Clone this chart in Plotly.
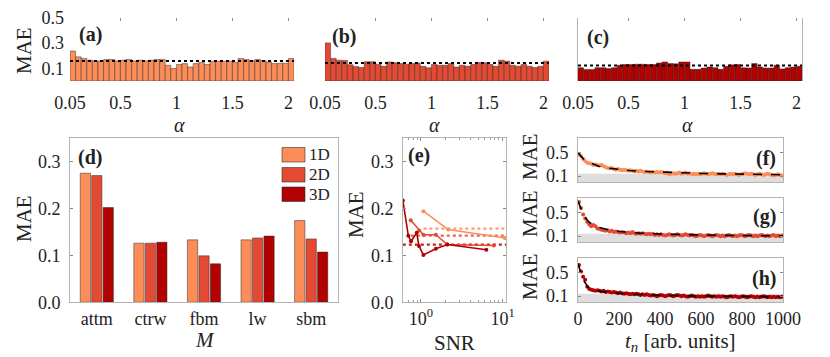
import plotly.graph_objects as go

# The page body has an 8px default margin, so the figure is sized to fill the
# 830x357 window from that offset; all positions below are window pixels.
OX, OY = 8, 8
FW, FH = 822, 349
FONT = "Liberation Serif, DejaVu Serif, serif"
C1, C2, C3 = "#FC8D59", "#E34A33", "#B30000"
GRAY_LINE = "#b4b4b4"
TXT = "#222222"

# ---------------- data ----------------
# (a)-(c): MAE vs alpha, 40 bins of width 0.05 starting at 0.05
alpha_centers = [round(0.075 + 0.05 * i, 3) for i in range(40)]
mae_alpha_1d = [0.236, 0.190, 0.178, 0.164, 0.158, 0.158, 0.170, 0.170, 0.158, 0.164,
                0.170, 0.158, 0.164, 0.158, 0.164, 0.170, 0.170, 0.124, 0.098, 0.130,
                0.137, 0.110, 0.137, 0.146, 0.130, 0.156, 0.156, 0.156, 0.156, 0.146,
                0.177, 0.170, 0.160, 0.170, 0.160, 0.150, 0.137, 0.140, 0.140, 0.177]
mae_alpha_2d = [0.300, 0.178, 0.164, 0.162, 0.128, 0.115, 0.106, 0.152, 0.152, 0.132,
                0.116, 0.150, 0.143, 0.137, 0.132, 0.137, 0.142, 0.116, 0.104, 0.130,
                0.124, 0.124, 0.137, 0.110, 0.124, 0.116, 0.130, 0.146, 0.143, 0.130,
                0.116, 0.164, 0.156, 0.124, 0.116, 0.130, 0.116, 0.106, 0.116, 0.156]
mae_alpha_3d = [0.105, 0.090, 0.090, 0.105, 0.105, 0.098, 0.105, 0.124, 0.130, 0.130,
                0.132, 0.132, 0.130, 0.130, 0.142, 0.150, 0.137, 0.135, 0.150, 0.150,
                0.092, 0.092, 0.102, 0.110, 0.105, 0.092, 0.116, 0.127, 0.130, 0.105,
                0.102, 0.137, 0.110, 0.102, 0.102, 0.124, 0.095, 0.105, 0.110, 0.116]
overall_mae = [0.157, 0.142, 0.123]
alpha_tickvals = [0.05, 0.5, 1, 1.5, 2]
alpha_ticktext = ["0.05", "0.5", "1", "1.5", "2"]

# (d): MAE per model
models = ["attm", "ctrw", "fbm", "lw", "sbm"]
dims = ["1D", "2D", "3D"]
mae_model_1d = [0.275, 0.126, 0.133, 0.133, 0.174]
mae_model_2d = [0.270, 0.126, 0.099, 0.137, 0.135]
mae_model_3d = [0.202, 0.128, 0.082, 0.141, 0.107]

# (e): MAE vs SNR
snr_1d = [1.07, 2.15, 10.6]
mae_snr_1d = [0.194, 0.155, 0.137]
snr_2d = [0.75, 0.95, 1.07, 1.52, 2.10, 7.8]
mae_snr_2d = [0.175, 0.153, 0.144, 0.144, 0.123, 0.121]
snr_3d = [0.60, 0.70, 0.755, 0.887, 0.945, 1.07, 1.52, 2.10, 6.3]
mae_snr_3d = [0.217, 0.142, 0.130, 0.148, 0.120, 0.101, 0.114, 0.123, 0.112]
snr_axis_max = 10 ** 1.04
snr_minor_ticks = [0.6, 0.7, 0.8, 0.9, 2, 3, 4, 5, 6, 7, 8, 9]

# (f)-(h): MAE vs t_n
t_n = list(range(5, 1000, 10))
mae_t_1d = [0.47, 0.44, 0.39, 0.36, 0.33, 0.32, 0.31, 0.29, 0.30, 0.29,
            0.28, 0.29, 0.27, 0.25, 0.24, 0.23, 0.24, 0.22, 0.21, 0.22,
            0.21, 0.20, 0.21, 0.20, 0.19, 0.20, 0.19, 0.18, 0.19, 0.18,
            0.19, 0.18, 0.17, 0.18, 0.17, 0.16, 0.17, 0.16, 0.17, 0.16,
            0.17, 0.16, 0.15, 0.16, 0.13, 0.14, 0.15, 0.14, 0.15, 0.16,
            0.14, 0.15, 0.16, 0.14, 0.15, 0.13, 0.14, 0.13, 0.14, 0.13,
            0.14, 0.15, 0.14, 0.13, 0.14, 0.15, 0.14, 0.13, 0.14, 0.13,
            0.14, 0.13, 0.12, 0.13, 0.14, 0.13, 0.14, 0.13, 0.12, 0.13,
            0.14, 0.15, 0.14, 0.13, 0.14, 0.13, 0.12, 0.13, 0.14, 0.13,
            0.12, 0.13, 0.14, 0.13, 0.12, 0.11, 0.12, 0.13, 0.12, 0.11]
mae_t_2d = [0.68, 0.58, 0.47, 0.40, 0.34, 0.30, 0.27, 0.29, 0.27, 0.23,
            0.22, 0.21, 0.20, 0.19, 0.20, 0.18, 0.19, 0.17, 0.18, 0.17,
            0.16, 0.17, 0.16, 0.15, 0.16, 0.15, 0.17, 0.15, 0.14, 0.15,
            0.14, 0.15, 0.14, 0.13, 0.14, 0.13, 0.14, 0.12, 0.13, 0.12,
            0.13, 0.12, 0.11, 0.12, 0.13, 0.12, 0.11, 0.12, 0.13, 0.12,
            0.11, 0.12, 0.13, 0.12, 0.11, 0.12, 0.11, 0.10, 0.11, 0.12,
            0.11, 0.10, 0.11, 0.12, 0.11, 0.10, 0.11, 0.12, 0.11, 0.10,
            0.11, 0.10, 0.11, 0.12, 0.11, 0.10, 0.11, 0.10, 0.11, 0.12,
            0.11, 0.10, 0.11, 0.12, 0.11, 0.10, 0.11, 0.10, 0.11, 0.12,
            0.11, 0.10, 0.11, 0.10, 0.11, 0.12, 0.10, 0.11, 0.10, 0.11]
mae_t_3d = [0.63, 0.52, 0.43, 0.38, 0.26, 0.22, 0.21, 0.20, 0.19, 0.20,
            0.19, 0.18, 0.19, 0.17, 0.18, 0.17, 0.16, 0.17, 0.16, 0.15,
            0.16, 0.15, 0.14, 0.15, 0.14, 0.13, 0.14, 0.13, 0.14, 0.13,
            0.12, 0.13, 0.12, 0.13, 0.12, 0.11, 0.12, 0.11, 0.10, 0.11,
            0.12, 0.11, 0.10, 0.11, 0.12, 0.11, 0.10, 0.11, 0.12, 0.11,
            0.10, 0.11, 0.10, 0.09, 0.10, 0.11, 0.10, 0.09, 0.10, 0.09,
            0.10, 0.09, 0.10, 0.11, 0.10, 0.09, 0.10, 0.09, 0.10, 0.09,
            0.10, 0.09, 0.08, 0.09, 0.10, 0.09, 0.10, 0.09, 0.08, 0.09,
            0.10, 0.09, 0.08, 0.09, 0.10, 0.09, 0.08, 0.09, 0.08, 0.09,
            0.10, 0.09, 0.08, 0.09, 0.08, 0.09, 0.08, 0.09, 0.08, 0.09]
fit_t = [0, 25, 50, 75, 100, 150, 200, 250, 300, 400, 500, 600, 700, 800, 900, 1000]
fit_1d = [0.50, 0.40, 0.34, 0.30, 0.27, 0.235, 0.21, 0.195, 0.183, 0.167, 0.155, 0.146, 0.139, 0.133, 0.128, 0.124]
fit_2d = [0.70, 0.47, 0.35, 0.29, 0.25, 0.205, 0.18, 0.163, 0.152, 0.136, 0.125, 0.118, 0.113, 0.110, 0.107, 0.105]
fit_3d = [0.65, 0.38, 0.25, 0.205, 0.185, 0.163, 0.148, 0.136, 0.127, 0.114, 0.106, 0.100, 0.096, 0.093, 0.091, 0.089]
baseline_mae = 0.14
t_tickvals = [0, 200, 400, 600, 800, 1000]


# ---------------- helpers (window pixels -> paper fractions) ----------------
def px(x):
    return (x - OX) / FW


def py(y):
    return 1 - (y - OY) / FH


def dx(x0, x1):
    return [px(x0), px(x1)]


def dy(y0, y1):
    return [py(y1), py(y0)]


def ax_id(n):
    return "" if n == 1 else str(n)


tickfont = dict(family=FONT, size=18, color=TXT)


def base_axis(**kw):
    d = dict(showgrid=False, zeroline=False, ticks="inside", ticklen=3,
             tickcolor="#8a8a8a", tickwidth=1, tickfont=tickfont,
             linecolor=GRAY_LINE, linewidth=1, showline=False, fixedrange=True,
             automargin=False, ticklabeloverflow="allow")
    d.update(kw)
    return d


fig = go.Figure()
colors = [C1, C2, C3]

# (a)-(c)
alpha_sets = [mae_alpha_1d, mae_alpha_2d, mae_alpha_3d]
for k in range(3):
    n = k + 1
    fig.add_trace(go.Bar(x=alpha_centers, y=alpha_sets[k], width=0.05,
                         marker=dict(color=colors[k], line=dict(color="rgba(40,40,40,0.75)", width=0.6)),
                         xaxis=f"x{ax_id(n)}", yaxis=f"y{ax_id(n)}", showlegend=False))

# (d)
model_sets = [mae_model_1d, mae_model_2d, mae_model_3d]
for k in range(3):
    fig.add_trace(go.Bar(x=models, y=model_sets[k], name=dims[k],
                         marker=dict(color=colors[k], line=dict(color="rgba(40,40,40,0.7)", width=0.7)),
                         xaxis="x4", yaxis="y4", showlegend=False))

# (e)
snr_sets = [(snr_1d, mae_snr_1d), (snr_2d, mae_snr_2d), (snr_3d, mae_snr_3d)]
for k in range(3):
    s, m = snr_sets[k]
    fig.add_trace(go.Scatter(x=[s[0], snr_axis_max], y=[overall_mae[k], overall_mae[k]],
                             mode="lines", line=dict(color=colors[k], width=2.2, dash="dot"),
                             xaxis="x5", yaxis="y5", showlegend=False, opacity=0.85))
for k in range(3):
    s, m = snr_sets[k]
    fig.add_trace(go.Scatter(x=s, y=m, mode="lines+markers",
                             line=dict(color=colors[k], width=1.6),
                             marker=dict(color=colors[k], size=4),
                             xaxis="x5", yaxis="y5", showlegend=False))

# (f)-(h)
t_sets = [mae_t_1d, mae_t_2d, mae_t_3d]
fit_sets = [fit_1d, fit_2d, fit_3d]
for k in range(3):
    n = 6 + k
    fig.add_trace(go.Scatter(x=t_n, y=t_sets[k], mode="markers",
                             marker=dict(color=colors[k], size=4),
                             xaxis=f"x{n}", yaxis=f"y{n}", showlegend=False))
    fig.add_trace(go.Scatter(x=fit_t, y=fit_sets[k], mode="lines",
                             line=dict(color="black", width=1.6, dash="dash"),
                             xaxis=f"x{n}", yaxis=f"y{n}", showlegend=False))

# ---------------- layout ----------------
layout = dict(width=FW, height=FH, margin=dict(l=0, r=0, t=0, b=0, autoexpand=False),
              paper_bgcolor="white", plot_bgcolor="white",
              barmode="group", bargap=0.36, bargroupgap=0.1,
              font=dict(family=FONT, color=TXT), showlegend=False)

x_panels = [(70, 294), (325, 549), (578, 802)]
for k in range(3):
    n = k + 1
    sfx = ax_id(n)
    layout[f"xaxis{sfx}"] = base_axis(domain=dx(*x_panels[k]), range=[0.05, 2.05],
                                      tickvals=alpha_tickvals, ticktext=alpha_ticktext,
                                      anchor=f"y{sfx}", showline=True,
                                      linecolor="rgba(0,0,0,0)", mirror="ticks",
                                      layer="below traces", ticklabelstandoff=5)
    yax = base_axis(domain=dy(17.5, 81), range=[0, 0.5], tickvals=[0.1, 0.3, 0.5],
                    ticktext=["0.1", "0.3", "0.5"], anchor=f"x{sfx}", layer="below traces",
                    ticks="", showticklabels=(k == 0), ticklabelstandoff=5)
    if k == 2:
        yax.update(showline=True, mirror=True)
    layout[f"yaxis{sfx}"] = yax

layout["xaxis4"] = base_axis(domain=dx(70, 338), type="category", range=[-0.5, 4.5],
                             anchor="y4", showline=True, mirror=True, ticks="",
                             ticklabelstandoff=0)
layout["yaxis4"] = base_axis(domain=dy(138, 302.3), range=[0, 0.35],
                             tickvals=[0, 0.1, 0.2, 0.3], ticktext=["0.0", "0.1", "0.2", "0.3"],
                             anchor="x4", showline=True, mirror=True, ticklabelstandoff=5)

layout["xaxis5"] = base_axis(domain=dx(403, 506), type="log", range=[-0.22, 1.04],
                             tickvals=[1, 10], ticktext=["10<sup>0</sup>", "10<sup>1</sup>"],
                             anchor="y5", showline=True, mirror="ticks", ticklabelstandoff=0,
                             minor=dict(ticks="inside", ticklen=2, tickcolor="#9a9a9a",
                                        tickmode="array", tickvals=snr_minor_ticks, showgrid=False))
layout["yaxis5"] = base_axis(domain=dy(138, 302.3), range=[0, 0.35],
                             tickvals=[0, 0.1, 0.2, 0.3], ticktext=["0.0", "0.1", "0.2", "0.3"],
                             anchor="x5", showline=True, mirror="ticks", ticklabelstandoff=5)

y_fgh = [(138, 182), (198, 242), (258, 302)]
for k in range(3):
    n = 6 + k
    layout[f"xaxis{n}"] = base_axis(domain=dx(578, 783), range=[0, 1000], tickvals=t_tickvals,
                                    anchor=f"y{n}", showline=True, mirror=True,
                                    showticklabels=(k == 2), ticks="", ticklabelstandoff=0)
    layout[f"yaxis{n}"] = base_axis(domain=dy(*y_fgh[k]), range=[0, 0.75],
                                    tickvals=[0.1, 0.5], ticktext=["0.1", "0.5"],
                                    anchor=f"x{n}", showline=True, mirror="ticks",
                                    ticklabelstandoff=5)

shapes = []
# gray baseline bands in (f)-(h)
for k in range(3):
    n = 6 + k
    shapes.append(dict(type="rect", xref=f"x{n} domain", yref=f"y{n}", x0=0, x1=1,
                       y0=0, y1=baseline_mae, fillcolor="#dedede", line=dict(width=0),
                       layer="below"))
# dotted overall-MAE lines in (a)-(c)
for k in range(3):
    sfx = ax_id(k + 1)
    shapes.append(dict(type="line", xref=f"x{sfx} domain", yref=f"y{sfx}", x0=0, x1=1,
                       y0=overall_mae[k], y1=overall_mae[k],
                       line=dict(color="black", width=2, dash="dot"), layer="above"))
# legend patches for (d)
legend_rows = [(147.5, 162), (167.5, 182), (187, 201.5)]
for k in range(3):
    y0, y1 = legend_rows[k]
    shapes.append(dict(type="rect", xref="paper", yref="paper", x0=px(282), x1=px(305),
                       y0=py(y1), y1=py(y0), fillcolor=colors[k],
                       line=dict(color="rgba(40,40,40,0.7)", width=0.8)))
layout["shapes"] = shapes

annotations = []


def ann(text, x, y, size=20, angle=0, xanchor="center", yanchor="middle"):
    annotations.append(dict(text=text, x=px(x), y=py(y), xref="paper", yref="paper",
                            showarrow=False, textangle=angle, xanchor=xanchor, yanchor=yanchor,
                            font=dict(family=FONT, size=size, color=TXT)))


# legend labels
for k in range(3):
    y0, y1 = legend_rows[k]
    ann(dims[k], 307, (y0 + y1) / 2, size=17, xanchor="left")

# panel labels
ann("<b>(a)</b>", 77, 35, xanchor="left")
ann("<b>(b)</b>", 330, 36, xanchor="left")
ann("<b>(c)</b>", 585, 37, xanchor="left")
ann("<b>(d)</b>", 76, 157, xanchor="left")
ann("<b>(e)</b>", 406, 155, xanchor="left")
ann("<b>(f)</b>", 778, 158, xanchor="right")
ann("<b>(g)</b>", 778, 216, xanchor="right")
ann("<b>(h)</b>", 778, 278, xanchor="right")

# axis titles
ann("MAE", 24, 51, size=21, angle=-90)
for (x0, x1) in x_panels:
    ann("<i>α</i>", (x0 + x1) / 2 - 3, 125, size=20)
ann("MAE", 24, 219, size=21, angle=-90)
ann("<i>M</i>", 205, 340, size=21)
ann("MAE", 356, 215, size=21, angle=-90)
ann("SNR", 455, 343, size=21)
ann("MAE", 530, 157, size=21, angle=-90)
ann("MAE", 530, 214, size=21, angle=-90)
ann("MAE", 530, 277, size=21, angle=-90)
ann("<i>t</i><sub><i>n</i></sub> [arb. units]", 680, 342, size=21)
layout["annotations"] = annotations

fig.update_layout(**layout)
fig.write_html("out.html")
